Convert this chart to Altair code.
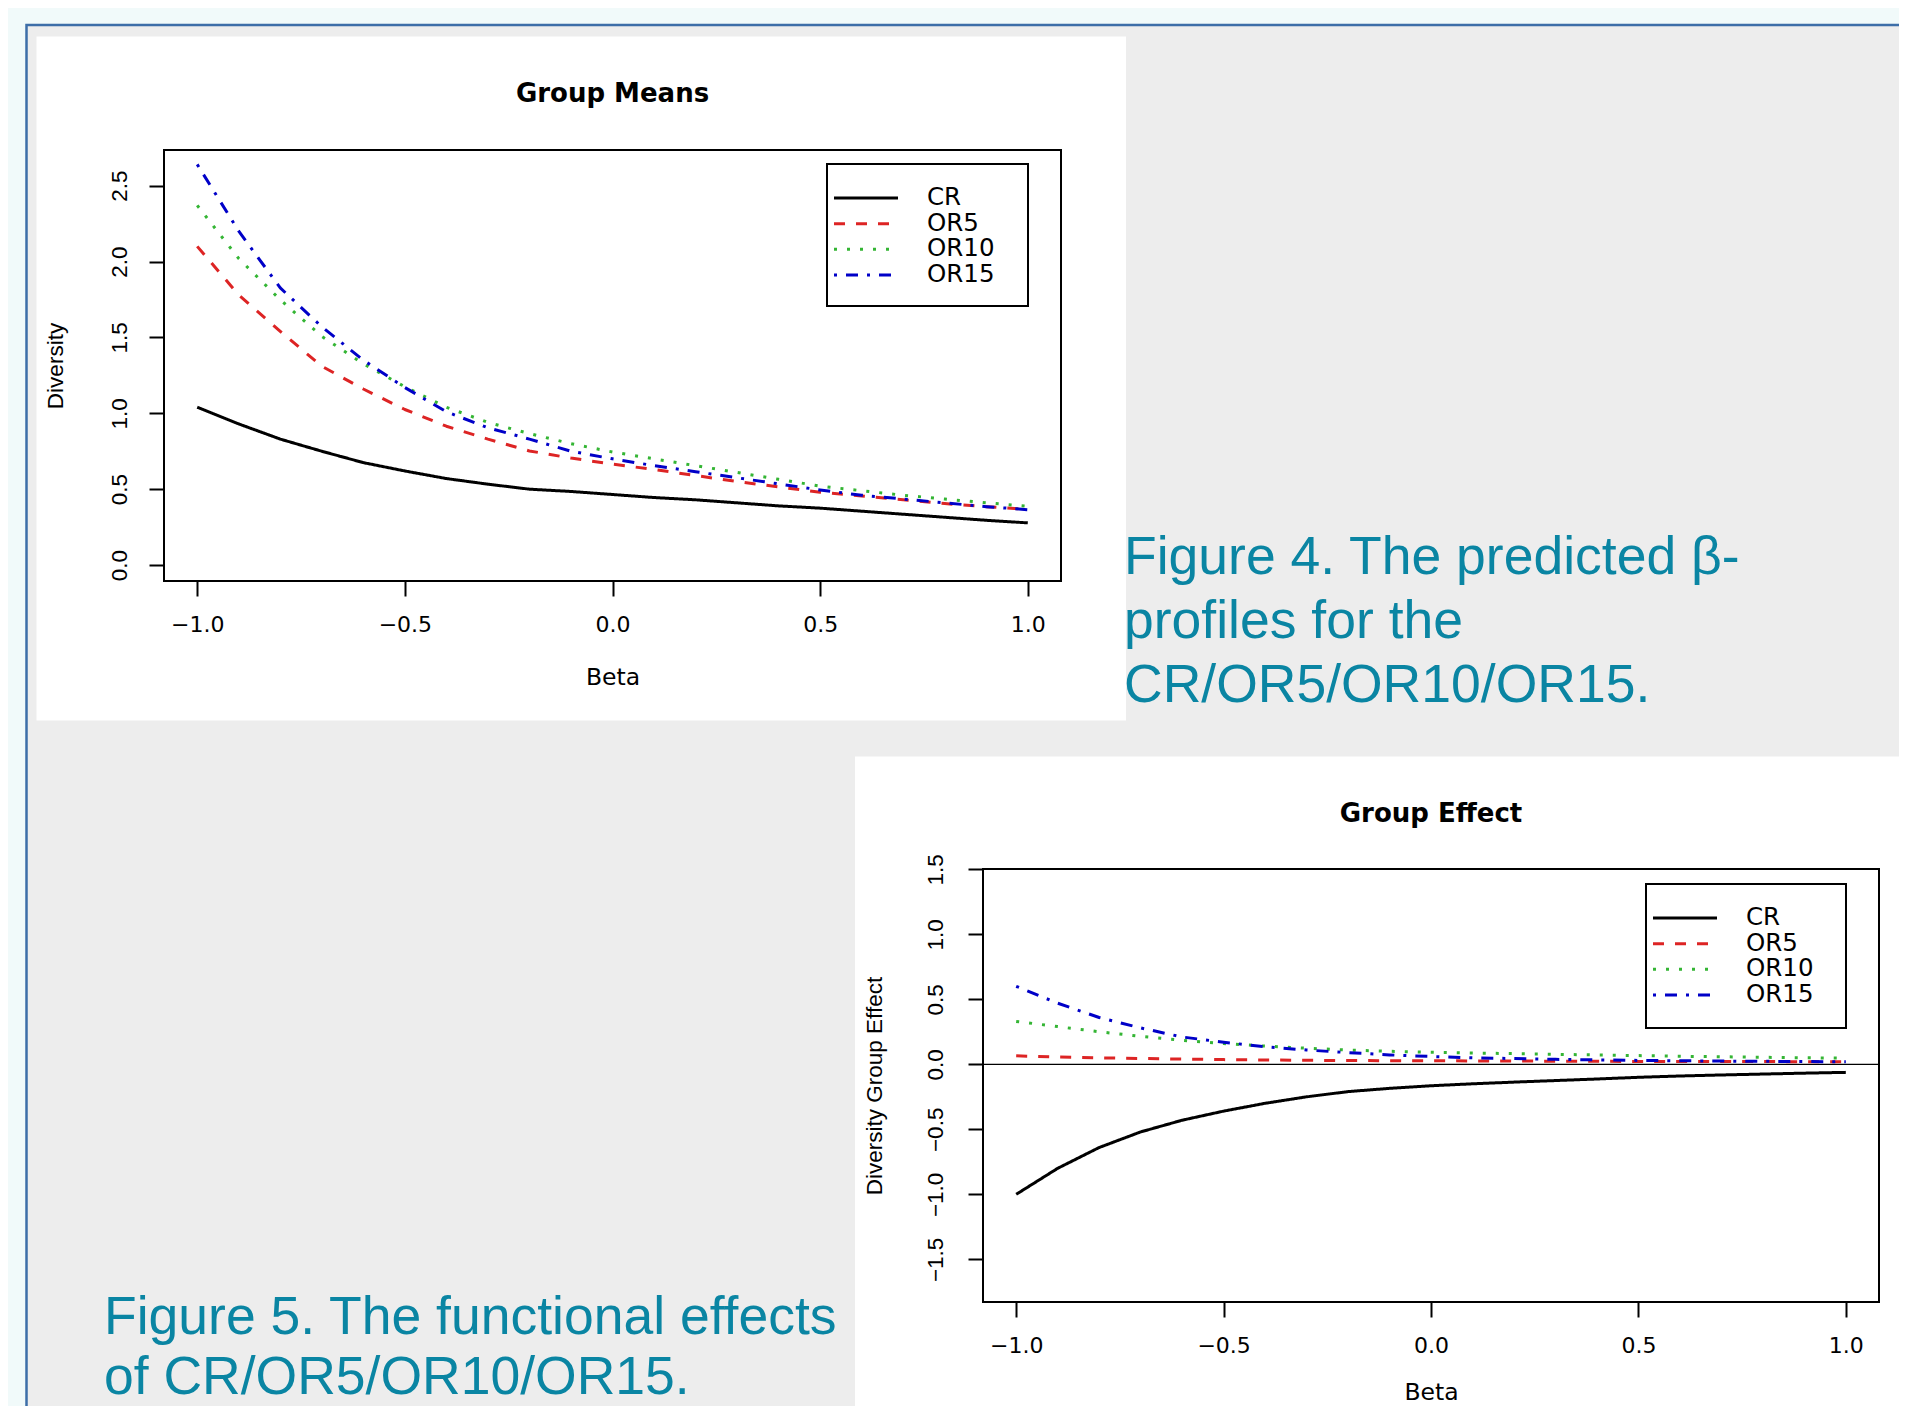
import altair as alt
import pandas as pd

# canvas size kept inside the 1907x1418 window (8px page margin on each side)
W, H = 1891, 1398

# ---------------- data ----------------
beta = [-1.0, -0.9, -0.8, -0.7, -0.6, -0.5, -0.4, -0.3, -0.2, -0.1, 0.0,
        0.1, 0.2, 0.3, 0.4, 0.5, 0.6, 0.7, 0.8, 0.9, 1.0]
series = ["CR", "OR5", "OR10", "OR15"]

# Figure 4 : Group Means
mean_CR = [1.04, 0.93, 0.83, 0.75, 0.675, 0.62, 0.57, 0.533, 0.50, 0.485, 0.465,
           0.445, 0.43, 0.41, 0.39, 0.375, 0.355, 0.335, 0.315, 0.295, 0.278]
mean_OR5 = [2.10, 1.78, 1.54, 1.31, 1.16, 1.025, 0.915, 0.83, 0.752, 0.705, 0.665,
            0.63, 0.59, 0.55, 0.515, 0.48, 0.455, 0.43, 0.405, 0.385, 0.366]
mean_OR10 = [2.37, 2.02, 1.748, 1.507, 1.326, 1.175, 1.04, 0.94, 0.866, 0.80, 0.745,
             0.70, 0.655, 0.61, 0.565, 0.52, 0.49, 0.46, 0.435, 0.41, 0.388]
mean_OR15 = [2.64, 2.20, 1.826, 1.57, 1.35, 1.17, 1.01, 0.905, 0.83, 0.75, 0.70,
             0.655, 0.615, 0.575, 0.535, 0.495, 0.46, 0.435, 0.41, 0.385, 0.365]

# Figure 5 : Group Effect
eff_CR = [-1.00, -0.80, -0.64, -0.52, -0.43, -0.36, -0.30, -0.25, -0.21, -0.185, -0.165,
          -0.15, -0.137, -0.125, -0.113, -0.10, -0.09, -0.082, -0.075, -0.068, -0.062]
eff_OR5 = [0.065, 0.057, 0.05, 0.045, 0.04, 0.036, 0.033, 0.031, 0.029, 0.028, 0.027,
           0.026, 0.025, 0.024, 0.023, 0.022, 0.022, 0.021, 0.021, 0.02, 0.02]
eff_OR10 = [0.33, 0.29, 0.25, 0.215, 0.185, 0.16, 0.14, 0.124, 0.11, 0.10, 0.093,
            0.087, 0.082, 0.077, 0.072, 0.067, 0.062, 0.058, 0.054, 0.05, 0.047]
eff_OR15 = [0.60, 0.47, 0.36, 0.28, 0.21, 0.17, 0.135, 0.11, 0.09, 0.072, 0.06,
            0.05, 0.044, 0.038, 0.034, 0.03, 0.027, 0.025, 0.023, 0.021, 0.02]

x_ticks = [-1.0, -0.5, 0.0, 0.5, 1.0]
y1_ticks = [0.0, 0.5, 1.0, 1.5, 2.0, 2.5]
y2_ticks = [-1.5, -1.0, -0.5, 0.0, 0.5, 1.0, 1.5]

titles = ["Group Means", "Group Effect"]
x_title = "Beta"
y_titles = ["Diversity", "Diversity Group Effect"]
caption4 = ["Figure 4. The predicted \u03b2-", "profiles for the", "CR/OR5/OR10/OR15."]
caption5 = ["Figure 5. The functional effects", "of CR/OR5/OR10/OR15."]

colors = ["#000000", "#dd2424", "#34b534", "#0000c8"]
dashes = [[1, 0], [11, 11], [3, 10], [3, 9, 12, 9]]
teal = "#0a85a3"


def long(cols):
    rows = []
    for s, vals in zip(series, cols):
        for b, v in zip(beta, vals):
            rows.append({"beta": b, "value": v, "series": s})
    return pd.DataFrame(rows)


df_means = long([mean_CR, mean_OR5, mean_OR10, mean_OR15])
df_eff = long([eff_CR, eff_OR5, eff_OR10, eff_OR15])
df_leg = pd.DataFrame({"series": series})
one = pd.DataFrame({"k": [0]})

# ---------------- scales ----------------
x_dom = [-1.08, 1.08]
y1_dom = [-0.105, 2.735]
y2_dom = [-1.828, 1.502]
X1 = alt.Scale(domain=x_dom, range=[156, 1053], nice=False, zero=False)
Y1 = alt.Scale(domain=y1_dom, range=[573, 142], nice=False, zero=False)
X2 = alt.Scale(domain=x_dom, range=[975, 1871], nice=False, zero=False)
Y2 = alt.Scale(domain=y2_dom, range=[1294, 861], nice=False, zero=False)
cscale = alt.Scale(domain=series, range=colors)
dscale = alt.Scale(domain=series, range=dashes)


def xaxis(ypix, title_x, title_y):
    return alt.Axis(orient="bottom", offset=ypix - H, values=x_ticks, format=".1f",
                    domain=False, grid=False, tickSize=15, tickWidth=2, tickColor="black",
                    labelFont="DejaVu Sans", labelFontSize=22, labelColor="black",
                    labelPadding=28, labelBaseline="middle", labelAlign="center",
                    labelFlush=False, labelOverlap=False,
                    title=x_title, titleFont="DejaVu Sans", titleFontSize=23.5,
                    titleFontWeight="normal", titleColor="black", titleX=title_x,
                    titleY=title_y, titleAlign="center", titleBaseline="middle", zindex=1)


def yaxis(xpix, vals, title, title_y, pad):
    return alt.Axis(orient="left", offset=-xpix, values=vals, format=".1f",
                    domain=False, grid=False, tickSize=15, tickWidth=2, tickColor="black",
                    labelFont="Liberation Sans", labelFontSize=22.5, labelColor="black",
                    labelAngle=270, labelAlign="center", labelBaseline="middle",
                    labelPadding=pad, labelFlush=False, labelOverlap=False,
                    title=title, titleFont="Liberation Sans", titleFontSize=22.5,
                    titleFontWeight="normal", titleColor="black", titleAngle=270,
                    titleX=-109, titleY=title_y, titleAlign="center",
                    titleBaseline="middle", zindex=1)


def rect(x, y, x2, y2, **kw):
    return alt.Chart(one).mark_rect(**kw).encode(
        x=alt.value(x), y=alt.value(y), x2=alt.value(x2), y2=alt.value(y2))


def plot_box(X, Y, ydom):
    return alt.Chart(one).mark_rect(fill="white", stroke="black", strokeWidth=2).encode(
        x=alt.XDatum(x_dom[0], scale=X, axis=None), x2=alt.X2Datum(x_dom[1]),
        y=alt.YDatum(ydom[0], scale=Y, axis=None), y2=alt.Y2Datum(ydom[1]))


def lines(df, X, Y, xa, ya):
    return alt.Chart(df).mark_line(strokeWidth=3, strokeCap="butt", strokeJoin="round").encode(
        x=alt.X("beta:Q", scale=X, axis=xa),
        y=alt.Y("value:Q", scale=Y, axis=ya),
        color=alt.Color("series:N", scale=cscale, legend=None),
        strokeDash=alt.StrokeDash("series:N", scale=dscale, legend=None),
    )


def legend(box, lx0, lx1, tx, rows):
    ys = alt.Scale(type="point", domain=series, range=rows, padding=0)
    b = rect(*box, fill="white", stroke="black", strokeWidth=2)
    ln = alt.Chart(df_leg).mark_rule(strokeWidth=3, strokeCap="butt").encode(
        x=alt.value(lx0), x2=alt.value(lx1),
        y=alt.Y("series:N", scale=ys, axis=None),
        color=alt.Color("series:N", scale=cscale, legend=None),
        strokeDash=alt.StrokeDash("series:N", scale=dscale, legend=None))
    tt = alt.Chart(df_leg).mark_text(align="left", baseline="middle", font="DejaVu Sans",
                                     fontSize=24.5, color="black").encode(
        x=alt.value(tx), y=alt.Y("series:N", scale=ys, axis=None), text="series:N")
    return [b, ln, tt]


def title(t, X, ypix):
    return alt.Chart(pd.DataFrame({"t": [t]})).mark_text(
        font="DejaVu Sans", fontSize=26, fontWeight="bold", align="center",
        baseline="middle", color="black").encode(
        x=alt.XDatum(0, scale=X, axis=None), y=alt.value(ypix), text="t:N")


def caption(lines_, x, y, lh):
    return alt.Chart(one).mark_text(align="left", baseline="alphabetic",
                                    font="Liberation Sans", fontSize=53.5, lineHeight=lh,
                                    color=teal).encode(
        x=alt.value(x), y=alt.value(y), text=alt.value(lines_))


# ---------------- layers ----------------
bg = rect(18.5, 17, W + 40, H + 40, fill="#ededed", stroke="#3d6ea8", strokeWidth=2.5)
panel1 = rect(28.5, 28.5, 1118, 712.5, fill="white")
panel2 = rect(847, 748.5, W + 40, H + 40, fill="white")

box1 = plot_box(X1, Y1, y1_dom)
lines1 = lines(df_means, X1, Y1, xaxis(573, 604.5, 96),
               yaxis(156, y1_ticks, y_titles[0], 357.5, 30))
leg1 = legend((819, 156, 1020, 298), 826, 890, 919, [190, 267])
title1 = title(titles[0], X1, 86)

box2 = plot_box(X2, Y2, y2_dom)
zero2 = alt.Chart(one).mark_rule(color="black", strokeWidth=1.3).encode(
    x=alt.XDatum(x_dom[0], scale=X2, axis=None), x2=alt.X2Datum(x_dom[1]),
    y=alt.YDatum(0, scale=Y2, axis=None))
lines2 = lines(df_eff, X2, Y2, xaxis(1294, 1423, 90),
               yaxis(975, y2_ticks, y_titles[1], 1077.5, 33))
leg2 = legend((1638, 876, 1838, 1020), 1645, 1709, 1738, [910, 987])
title2 = title(titles[1], X2, 806)

cap4 = caption(caption4, 1116, 566, 64)
cap5 = caption(caption5, 96, 1326, 60)

layers = [bg, panel1, panel2, box1, lines1] + leg1 + [title1, box2, zero2, lines2] + leg2 + \
         [title2, cap4, cap5]

chart = alt.layer(*layers).resolve_scale(
    x="independent", y="independent"
).properties(
    width=W, height=H, autosize=alt.AutoSizeParams(type="none"), padding=0,
    background="#f1fafa"
).configure_view(strokeWidth=0)

chart.save("out.html", embed_options={"renderer": "svg", "actions": False})
